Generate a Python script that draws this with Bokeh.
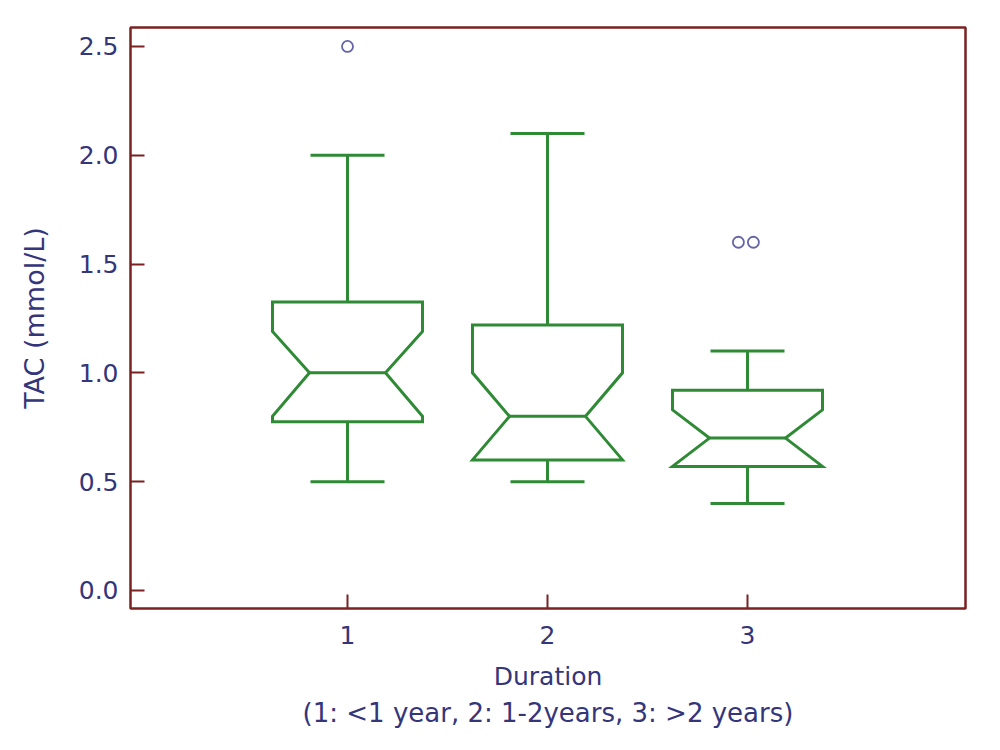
from bokeh.plotting import figure
from bokeh.models import FixedTicker, Range1d, Title
from bokeh.embed import file_html
from bokeh.resources import INLINE

# ---- data ----
categories = [1, 2, 3]
whisker_low = [0.50, 0.50, 0.40]
q1 = [0.775, 0.60, 0.57]
notch_low = [0.80, 0.60, 0.57]
median = [1.00, 0.80, 0.70]
notch_high = [1.19, 1.00, 0.83]
q3 = [1.325, 1.22, 0.92]
whisker_high = [2.00, 2.10, 1.10]
outlier_group = [1, 3, 3]
outlier_value = [2.50, 1.60, 1.60]
y_ticks = [0.0, 0.5, 1.0, 1.5, 2.0, 2.5]
y_tick_labels = ["0.0", "0.5", "1.0", "1.5", "2.0", "2.5"]
x_tick_labels = ["1", "2", "3"]

# ---- styles ----
FRAME = "#7a2222"
TEXT = "#35357a"
GREEN = "#2f8a35"
OUT = "#6464a8"
FONT = "DejaVu Sans"
BOX_HALF = 0.375
NOTCH_HALF = 0.19
CAP_HALF = 0.185

p = figure(width=993, height=738, output_backend="svg", toolbar_location=None,
           x_range=Range1d(-0.085, 4.09), y_range=Range1d(-0.083, 2.587),
           min_border_left=130, min_border_right=28, min_border_top=27,
           min_border_bottom=130)
p.grid.visible = False
p.background_fill_color = "white"
p.border_fill_color = "white"
p.outline_line_color = FRAME
p.outline_line_width = 2.5

for ax in (p.xaxis[0], p.yaxis[0]):
    ax.axis_line_color = None
    ax.major_tick_line_color = FRAME
    ax.major_tick_line_width = 2
    ax.major_tick_in = 14
    ax.major_tick_out = 0
    ax.minor_tick_line_color = None
    ax.major_label_text_color = TEXT
    ax.major_label_text_font = FONT
    ax.major_label_text_font_size = "25px"
    ax.axis_label_text_color = TEXT
    ax.axis_label_text_font = FONT
    ax.axis_label_text_font_size = "25px"
    ax.axis_label_text_font_style = "normal"

p.yaxis.ticker = FixedTicker(ticks=y_ticks)
p.yaxis.major_label_overrides = {t: l for t, l in zip(y_ticks, y_tick_labels)}
p.yaxis.major_label_standoff = 12
p.yaxis.axis_label = "TAC (mmol/L)"
p.yaxis.axis_label_text_font_size = "27px"
p.yaxis.axis_label_standoff = 26

p.xaxis.ticker = FixedTicker(ticks=categories)
p.xaxis.major_label_overrides = {c: l for c, l in zip(categories, x_tick_labels)}
p.xaxis.major_label_standoff = 17
p.xaxis.axis_label = "Duration"
p.xaxis.axis_label_standoff = 15

p.add_layout(Title(text="(1: <1 year, 2: 1-2years, 3: >2 years)", align="center",
                   text_font=FONT, text_font_size="26px", text_color=TEXT,
                   text_font_style="normal", standoff=4), "below")

# ---- notched boxes ----
xs, ys = [], []
for c, a, nl, m, nh, b in zip(categories, q1, notch_low, median, notch_high, q3):
    xs.append([c - BOX_HALF, c - BOX_HALF, c - NOTCH_HALF, c - BOX_HALF, c - BOX_HALF,
               c + BOX_HALF, c + BOX_HALF, c + NOTCH_HALF, c + BOX_HALF, c + BOX_HALF])
    ys.append([a, nl, m, nh, b, b, nh, m, nl, a])
p.patches(xs, ys, fill_color=None, line_color=GREEN, line_width=3, line_join="miter")

# median lines
p.segment(x0=[c - NOTCH_HALF for c in categories], x1=[c + NOTCH_HALF for c in categories],
          y0=median, y1=median, line_color=GREEN, line_width=3)
# whiskers
p.segment(x0=categories, x1=categories, y0=q3, y1=whisker_high, line_color=GREEN, line_width=3)
p.segment(x0=categories, x1=categories, y0=q1, y1=whisker_low, line_color=GREEN, line_width=3)
p.segment(x0=[c - CAP_HALF for c in categories], x1=[c + CAP_HALF for c in categories],
          y0=whisker_high, y1=whisker_high, line_color=GREEN, line_width=3)
p.segment(x0=[c - CAP_HALF for c in categories], x1=[c + CAP_HALF for c in categories],
          y0=whisker_low, y1=whisker_low, line_color=GREEN, line_width=3)

# outliers (duplicates shifted slightly side by side)
ox = []
seen = {}
for g, v in zip(outlier_group, outlier_value):
    k = (g, v)
    seen[k] = seen.get(k, 0) + 1
dup_idx = {}
for g, v in zip(outlier_group, outlier_value):
    k = (g, v)
    n = seen[k]
    i = dup_idx.get(k, 0)
    dup_idx[k] = i + 1
    ox.append(g + (i - (n - 1) / 2) * 0.075 - (0.008 if n > 1 else 0))
p.scatter(ox, outlier_value, marker="circle", size=11, fill_color=None,
          line_color=OUT, line_width=1.8)

open("out.html", "w").write(file_html(p, INLINE))
